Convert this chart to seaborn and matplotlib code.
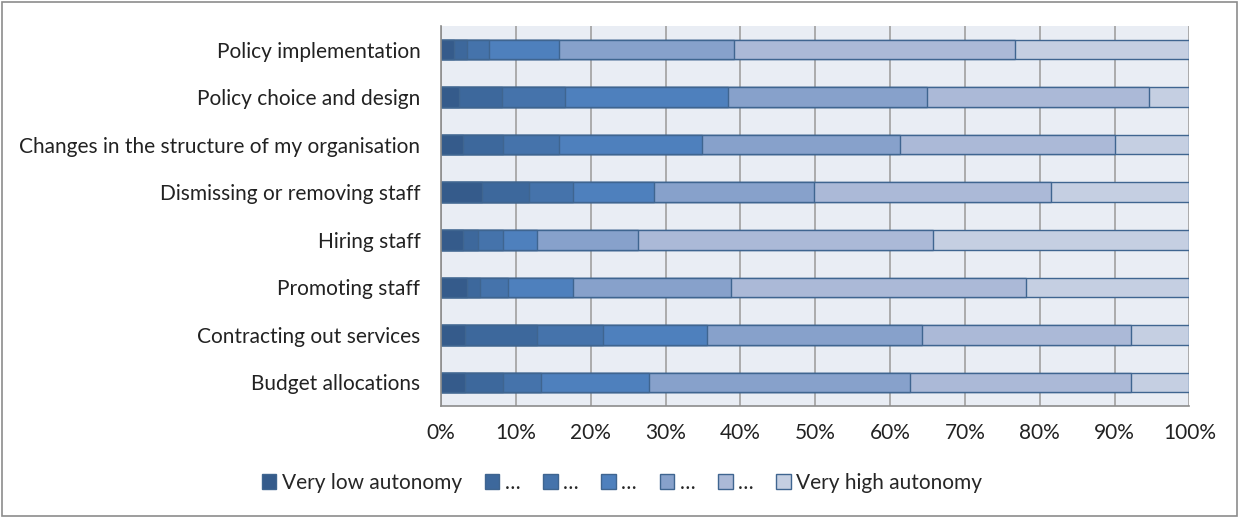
import numpy as np
import pandas as pd
import matplotlib
matplotlib.use('Agg')
import matplotlib.pyplot as plt
from matplotlib.patches import Patch, Rectangle
from matplotlib.ticker import FixedLocator, PercentFormatter
import seaborn as sns

# data (percent of respondents, top to bottom)
categories = ['Policy implementation', 'Policy choice and design',
              'Changes in the structure of my organisation', 'Dismissing or removing staff',
              'Hiring staff', 'Promoting staff', 'Contracting out services', 'Budget allocations']
levels = ['Very low autonomy', '…', '…', '…', '…', '…', 'Very high autonomy']

very_low = [1.7, 2.4, 2.9, 5.5, 2.9, 3.4, 3.2, 3.2]
level_2 = [1.7, 5.8, 5.35, 6.3, 2.0, 1.8, 9.6, 5.05]
level_3 = [3.0, 8.3, 7.55, 5.8, 3.35, 3.8, 8.9, 5.15]
level_4 = [9.4, 21.9, 19.0, 10.9, 4.55, 8.6, 13.8, 14.4]
level_5 = [23.3, 26.5, 26.5, 21.3, 13.5, 21.1, 28.8, 34.9]
level_6 = [37.6, 29.7, 28.8, 31.7, 39.4, 39.5, 27.9, 29.5]
very_high = [23.3, 5.3, 9.9, 18.5, 34.3, 21.8, 7.8, 7.8]

colors = ['#355b8b', '#3d689c', '#4573ab', '#4e80bd', '#87a1cb', '#abb9d7', '#c5cfe2']
edge = '#3f6590'

sns.set_theme(style='white')
plt.rcParams['font.family'] = ['Lato', 'DejaVu Sans']

df = pd.DataFrame({'category': categories})
series = [very_low, level_2, level_3, level_4, level_5, level_6, very_high]
cum = np.cumsum(np.array(series), axis=0)

fig = plt.figure(figsize=(12.39, 5.18), dpi=100)
ax = fig.add_axes([0.356, 0.216, 0.604, 0.734])
ax.set_facecolor('#e9edf4')

# stacked bars: draw cumulative totals from the largest down so each one overlays the next
for k in range(len(series) - 1, -1, -1):
    df['total'] = cum[k]
    sns.barplot(data=df, x='total', y='category', orient='h', color=colors[k],
                width=0.41, edgecolor=edge, linewidth=1.0, saturation=1, ax=ax)

ax.set_xlim(0, 100)
ax.set_ylim(7.5, -0.5)
ax.set_xticks(np.arange(0, 101, 10))
ax.xaxis.set_major_formatter(PercentFormatter(decimals=0))
ax.set_xlabel('')
ax.set_ylabel('')
ax.grid(axis='x', color='#a6a6a6', linewidth=1.3)
ax.set_axisbelow(True)

ax.yaxis.set_minor_locator(FixedLocator(np.arange(-0.5, 8, 1)))
ax.tick_params(axis='y', which='major', length=0, pad=15, labelsize=15, labelcolor='#222222')
ax.tick_params(axis='y', which='minor', length=6, color='#8c8c8c', width=1.2, direction='out')
ax.tick_params(axis='x', length=6, color='#8c8c8c', width=1.2, direction='out',
               labelsize=15, labelcolor='#222222', pad=6)
for side in ['top', 'right']:
    ax.spines[side].set_visible(False)
for side in ['left', 'bottom']:
    ax.spines[side].set_color('#8c8c8c')
    ax.spines[side].set_linewidth(1.2)

handles = [Patch(facecolor=c, edgecolor=edge, linewidth=1.0) for c in colors]
fig.legend(handles, levels, loc='center', bbox_to_anchor=(0.502, 0.068), ncol=7,
           frameon=False, fontsize=15, handlelength=0.7, handleheight=0.7,
           handletextpad=0.25, columnspacing=1.1)

fig.patches.append(Rectangle((0.002, 0.004), 0.996, 0.992, transform=fig.transFigure,
                             fill=False, edgecolor='#8c8c8c', linewidth=1.2))

fig.savefig('out.png', dpi=100)
